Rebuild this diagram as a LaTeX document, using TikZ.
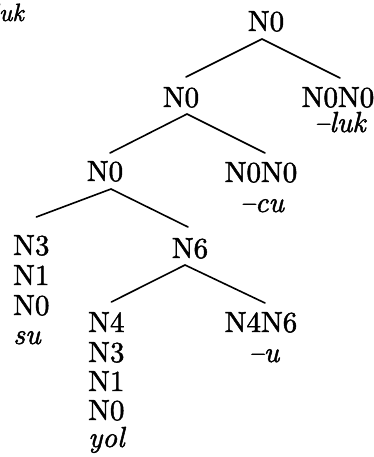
\documentclass[tikz,border=0pt]{standalone}
\usepackage{fontspec}
\newfontfamily\treefont{lmroman10}[Extension=.otf, UprightFont=*-regular, ItalicFont=*-italic, Ligatures=TeX, FakeBold=1.6]
\begin{document}
\begin{tikzpicture}[x=1pt,y=-1pt,
  lab/.style={inner sep=0pt, font=\treefont\fontsize{29}{30}\selectfont, anchor=base},
  stk/.style={lab, anchor=base west},
  suf/.style={lab, font=\treefont\fontsize{29}{30}\selectfont\itshape},
  branch/.style={line width=1.6pt, line cap=round}]
\useasboundingbox (0,0) rectangle (374,457);
\clip (0,0) rectangle (374,457);
% fragment of a label cut by the picture's edge
\node[lab, anchor=base east, font=\treefont\fontsize{25}{26}\selectfont\itshape] (frag) at (24,21) {luk};
% tree nodes
\node[lab] (r) at (266,31) {N0};
\node[lab] (a) at (181,107) {N0};
\node[lab] (b) at (338,107) {N0N0};
\node[suf] (bl) at (340,132) {–luk};
\node[lab] (c) at (105,181) {N0};
\node[lab] (d) at (261,182) {N0N0};
\node[suf] (dl) at (262,212) {–cu};
\node[stk] (e1) at (13,255) {N3};
\node[stk] (e2) at (13,285) {N1};
\node[stk] (e3) at (13,315) {N0};
\node[suf, anchor=base west] (e4) at (13,344) {su};
\node[lab] (f) at (190,258) {N6};
\node[stk] (g1) at (88,332) {N4};
\node[stk] (g2) at (88,362) {N3};
\node[stk] (g3) at (88,391) {N1};
\node[stk] (g4) at (88,420) {N0};
\node[suf, anchor=base west] (g5) at (88,447) {yol};
\node[lab] (h) at (261,332) {N4N6};
\node[suf] (hl) at (264,362) {–u};
% branches
\draw[branch] ([shift={(-4,8)}]r.base) -- ([shift={(5,-30)}]a.base);
\draw[branch] ([shift={(-4,8)}]r.base) -- ([shift={(2,-29)}]b.base);
\draw[branch] ([shift={(6,7)}]a.base) -- ([shift={(5,-28)}]c.base);
\draw[branch] ([shift={(6,7)}]a.base) -- ([shift={(4,-29)}]d.base);
\draw[branch] ([shift={(6,8)}]c.base) -- ([shift={(5,-38)}]e1.base);
\draw[branch] ([shift={(6,8)}]c.base) -- ([shift={(-2,-31)}]f.base);
\draw[branch] ([shift={(-5,7)}]f.base) -- ([shift={(5,-30)}]g1.base);
\draw[branch] ([shift={(-5,7)}]f.base) -- ([shift={(4,-29)}]h.base);
\end{tikzpicture}
\end{document}
